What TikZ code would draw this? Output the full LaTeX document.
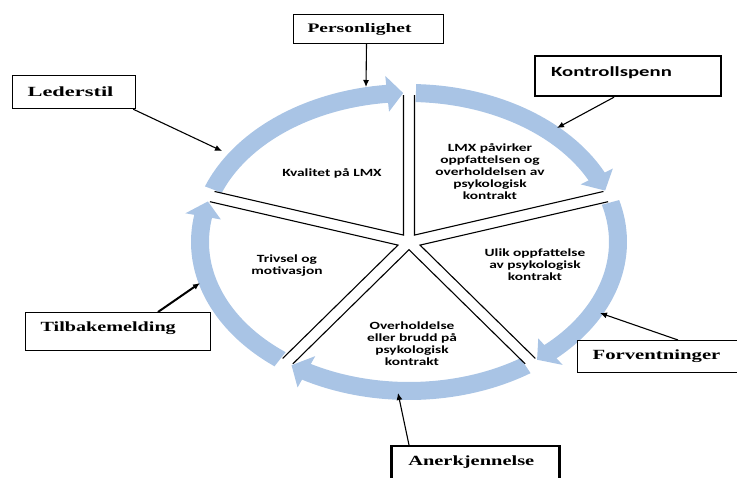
\documentclass[tikz,border=0pt]{standalone}
\usepackage{fontspec}
\setmainfont{Liberation Serif}
\newfontfamily\calib{Carlito}
\usepackage{graphicx}
\usetikzlibrary{arrows.meta,calc}
\definecolor{ringblue}{HTML}{A9C4E5}
\newcommand{\stx}[2]{\scalebox{#1}[1]{#2}}
\def\RCX{409}\def\RCY{242}\def\RRA{209}\def\RRB{149}\def\RHW{9}\def\RHH{18}
\newcommand{\ringarrow}[3]{%
  \fill[ringblue] plot[domain=#1:#2,samples=40,variable=\t]({\RCX+(\RRA+\RHW)*cos(\t)},{\RCY+(\RRB+\RHW)*sin(\t)})
   -- ({\RCX+(\RRA+\RHH)*cos(#2)},{\RCY+(\RRB+\RHH)*sin(#2)})
   -- ({\RCX+\RRA*cos(#3)},{\RCY+\RRB*sin(#3)})
   -- ({\RCX+(\RRA-\RHH)*cos(#2)},{\RCY+(\RRB-\RHH)*sin(#2)})
   -- plot[domain=#2:#1,samples=40,variable=\t]({\RCX+(\RRA-\RHW)*cos(\t)},{\RCY+(\RRB-\RHW)*sin(\t)})
   -- cycle;}
\begin{document}
\begin{tikzpicture}[x=1pt,y=-1pt,
  sep/.style={draw=black,line width=1.1pt},
  inner/.style={align=center,inner sep=0pt,font=\calib\bfseries\fontsize{11}{12}\selectfont},
  box/.style={draw=black,fill=white,anchor=north west,align=left,inner ysep=0pt},
  conn/.style={draw=black,line width=1.1pt,-{Latex[length=7pt,width=6pt]}}]
\useasboundingbox (0,0) rectangle (737,478);
\coordinate (C) at (409,242);
% ring arrows (clockwise)
\ringarrow{-88.1}{-26.1}{-20.2}
\ringarrow{-15.4}{47.4}{52.2}
\ringarrow{56.1}{119.4}{124.2}
\ringarrow{128.1}{189.9}{195.8}
\ringarrow{200.6}{264}{268.4}
% separators
\begin{scope}
\clip (C) ellipse [x radius=207, y radius=147];
\foreach \b/\d/\p/\q in {-51.5/8.84/-90/-13, 15.75/11.45/-13/44.5, 90/7.71/44.5/135.5, 164.25/11.45/135.5/193, 231.5/8.84/193/270} {
  \draw[sep] ($(C)+(\b:\d)+(\p:300)$) -- ($(C)+(\b:\d)$) -- ($(C)+(\b:\d)+(\q:300)$);
}
\end{scope}
% sector texts
\node[inner] (kval) at (332,173) {\stx{1.4}{Kvalitet på LMX}};
\node[inner] (lmx) at (490,173) {\stx{1.4}{\begin{tabular}{@{}c@{}}LMX påvirker\\oppfattelsen og\\overholdelsen av\\psykologisk\\kontrakt\end{tabular}}};
\node[inner] (ulik) at (535,266) {\stx{1.4}{\begin{tabular}{@{}c@{}}Ulik oppfattelse\\av psykologisk\\kontrakt\end{tabular}}};
\node[inner] (triv) at (287,266) {\stx{1.4}{\begin{tabular}{@{}c@{}}Trivsel og\\motivasjon\end{tabular}}};
\node[inner] (over) at (412,345) {\stx{1.4}{\begin{tabular}{@{}c@{}}Overholdelse\\eller brudd på\\psykologisk\\kontrakt\end{tabular}}};
% outer boxes
\node[box,line width=1pt,inner xsep=14pt,text width=122pt,minimum height=29pt,font=\bfseries\fontsize{13}{15}\selectfont] (pers) at (293,14) {\stx{1.5}{Personlighet}};
\node[box,line width=2.2pt,inner xsep=16pt,text width=154pt,minimum height=40pt,text depth=10pt,font=\calib\bfseries\fontsize{14}{16}\selectfont] (kon) at (534,55) {\stx{1.48}{Kontrollspenn}};
\node[box,line width=1.2pt,inner xsep=15pt,text width=93pt,minimum height=33pt,font=\bfseries\fontsize{14}{16}\selectfont] (led) at (12,75) {\stx{1.6}{Lederstil}};
\node[box,line width=1.2pt,inner xsep=15pt,text width=155pt,minimum height=38pt,text depth=9pt,font=\bfseries\fontsize{14}{16}\selectfont] (til) at (25,312) {\stx{1.44}{Tilbakemelding}};
\node[box,line width=2.5pt,inner xsep=17pt,text width=134pt,minimum height=36pt,text depth=7pt,font=\bfseries\fontsize{14}{16}\selectfont] (ane) at (390,445) {\stx{1.46}{Anerkjennelse}};
\node[box,line width=1.3pt,inner xsep=15pt,text width=150pt,minimum height=32pt,font=\bfseries\fontsize{14}{16}\selectfont] (forv) at (577,340) {\stx{1.48}{Forventninger}};
% connector end points
\coordinate (pT) at (366,87);
\coordinate (kT) at (557,128);
\coordinate (lT) at (222,151);
\coordinate (tT) at (200,283);
\coordinate (aT) at (398,393);
\coordinate (fT) at (600,313);
\draw[conn] ($(pers.south)+(-2,0)$) -- (pT);
\draw[conn] ($(kon.south west)+(80,0)$) -- (kT);
\draw[conn] ($(led.south east)+(-3,0)$) -- (lT);
\draw[conn,line width=2pt] ($(til.north west)+(133,0)$) -- (tT);
\draw[conn] ($(ane.north west)+(19,0)$) -- (aT);
\draw[conn] ($(forv.north west)+(101,0)$) -- (fT);
\end{tikzpicture}
\end{document}
